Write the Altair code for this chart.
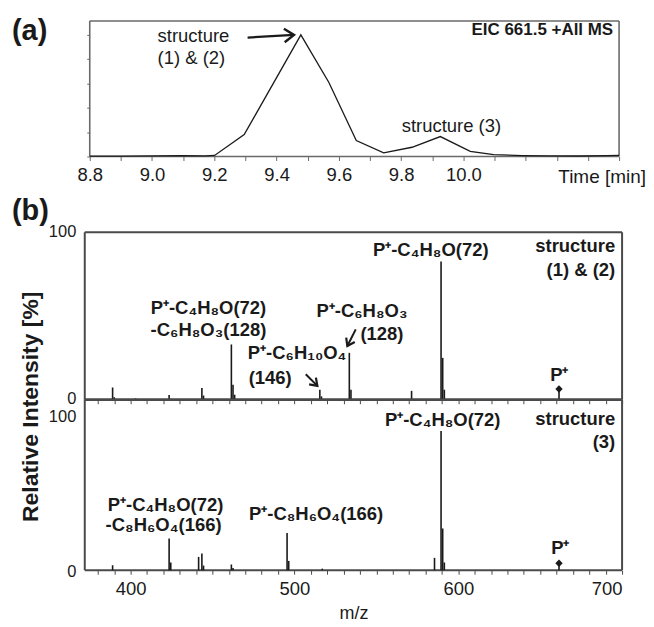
import json
import altair as alt
import pandas as pd

# ---------------- data ----------------
# (a) extracted ion chromatogram
eic_time = [8.80, 8.90, 9.00, 9.10, 9.17, 9.201, 9.296, 9.478, 9.568, 9.656,
            9.744, 9.835, 9.926, 10.022, 10.097, 10.19, 10.28, 10.37, 10.46, 10.50]
eic_intensity = [0.3, 0.3, 0.5, 0.6, 0.5, 0.9, 18.0, 100.0, 60.9, 13.1,
                 3.0, 7.6, 16.4, 4.3, 1.6, 0.8, 0.5, 0.4, 0.7, 1.0]
eic_tick_values = [8.8, 8.9, 9.0, 9.1, 9.2, 9.3, 9.4, 9.5, 9.6, 9.7, 9.8, 9.9,
                   10.0, 10.1, 10.2, 10.3, 10.4, 10.5]
eic_tick_labels = ["8.8", "9.0", "9.2", "9.4", "9.6", "9.8", "10.0"]

# (b) MS/MS spectra
ms1_mz = [389.0, 390.0, 403.0, 423.5, 443.5, 444.5, 461.5, 462.5, 463.5,
          515.5, 516.5, 533.5, 534.5, 571.5, 589.5, 590.5, 591.5, 661.5]
ms1_int = [7.3, 1.5, 0.8, 2.8, 7.0, 2.5, 33.0, 9.0, 3.0,
           6.0, 2.0, 28.0, 6.0, 5.3, 82.5, 25.0, 6.0, 5.5]
ms2_mz = [389.0, 423.5, 424.5, 441.5, 443.5, 444.5, 461.5, 462.5, 495.5,
          496.5, 517.0, 585.5, 589.5, 590.5, 591.5, 661.5]
ms2_int = [3.2, 20.5, 5.0, 8.6, 10.8, 3.0, 3.7, 1.5, 24.0,
           6.0, 1.0, 8.0, 90.0, 27.0, 5.0, 3.0]
precursor_mz = [661.5]
ms1_precursor_int = [6.4]
ms2_precursor_int = [4.5]
mz_tick_values = [380, 390, 400, 410, 420, 430, 440, 450, 460, 470, 480, 490, 500,
                  510, 520, 530, 540, 550, 560, 570, 580, 590, 600, 610, 620, 630,
                  640, 650, 660, 670, 680, 690, 700]
mz_tick_labels = [400, 500, 600, 700]

# annotations (data coordinates)
a_text = ["structure", "(1) & (2)", "structure (3)"]
a_time = [9.018, 9.018, 9.802]
a_int = [99.2, 81.2, 25.4]

ms1_center_text = ["P⁺-C₄H₈O(72)", "P⁺-C₄H₈O(72)", "-C₆H₈O₃(128)", "P⁺-C₆H₁₀O₄",
                   "(146)", "P⁺-C₆H₈O₃", "(128)", "P⁺"]
ms1_center_mz = [583.2, 447.5, 447.5, 501.6, 485.2, 541.2, 553.4, 661.7]
ms1_center_int = [89.3, 54.8, 41.7, 28.0, 13.1, 53.0, 39.3, 14.9]
ms1_right_text = ["structure", "(1) & (2)"]
ms1_right_mz = [695.8, 695.8]
ms1_right_int = [91.7, 77.4]

ms2_center_text = ["P⁺-C₄H₈O(72)", "P⁺-C₄H₈O(72)", "-C₈H₆O₄(166)", "P⁺-C₈H₆O₄(166)", "P⁺"]
ms2_center_mz = [590.5, 421.3, 420.1, 513.2, 662.3]
ms2_center_int = [97.4, 41.9, 29.0, 36.1, 14.2]
ms2_right_text = ["structure", "(3)"]
ms2_right_mz = [695.8, 695.8]
ms2_right_int = [98.0, 83.2]

# arrows: start -> tip
a_arrow_start_t = [9.307]
a_arrow_start_v = [97.8]
a_arrow_tip_t = [9.456]
a_arrow_tip_v = [100.0]
a_arrow_angle = [356.7]
ms1_arrow_start_mz = [537.4, 506.9]
ms1_arrow_start_int = [42.0, 15.2]
ms1_arrow_tip_mz = [532.3, 514.0]
ms1_arrow_tip_int = [32.1, 8.3]
ms1_arrow_angle = [117.0, 44.8]

# ---------------- style ----------------
FONT = "Liberation Sans"
INK = "#1a1a1a"
FRAME_A = "#6a6a6a"
FRAME_B = "#4a4a4a"
TICK_FS = 18.5
YLAB_FS = 16.5
ANN_FS = 18.5
CHEVRON = "M-1,-0.7L0,0L-1,0.7"

A_W, A_H = 536, 136
B_W, B1_H, B2_H = 539, 244, 171
A_TOP = 111.5
B2_TOP = 110.3

# ---------------- panel (a) ----------------
a_label_expr = ("indexof(" + json.dumps(eic_tick_labels) +
                ", format(datum.value, '.1f')) >= 0 ? format(datum.value, '.1f') : ''")
xa = alt.X("t:Q", scale=alt.Scale(domain=[8.784, 10.5], nice=False, zero=False),
           axis=alt.Axis(values=eic_tick_values, labelExpr=a_label_expr, tickSize=4,
                         domain=False, grid=False, title=None, labelPadding=5,
                         labelOverlap=False, labelFontSize=TICK_FS, tickColor=FRAME_A))
ya = alt.Y("v:Q", scale=alt.Scale(domain=[0, A_TOP], nice=False, zero=False),
           axis=alt.Axis(values=[0, 20, 40, 60, 80, 100], labels=False, tickSize=3,
                         domain=False, grid=False, title=None, offset=-5, tickColor=FRAME_A))

eic_df = pd.DataFrame({"t": eic_time, "v": eic_intensity})
frame_a = pd.DataFrame({"t": [8.8, 10.5, 8.8, 8.8], "t2": [8.8, 10.5, 10.5, 10.5],
                        "v": [0, 0, A_TOP, 0], "v2": [A_TOP, A_TOP, A_TOP, 0]})

a_frame = alt.Chart(frame_a).mark_rule(color=FRAME_A, strokeWidth=1.6).encode(
    x=xa, x2=alt.X2("t2"), y=ya, y2=alt.Y2("v2"))
a_line = alt.Chart(eic_df).mark_line(color=INK, strokeWidth=1.3).encode(x=xa, y=ya)
a_ann = alt.Chart(pd.DataFrame({"t": a_time, "v": a_int, "label": a_text})).mark_text(
    font=FONT, fontSize=18.5, align="left", baseline="middle", color=INK).encode(
    x=xa, y=ya, text="label:N")
a_eic = alt.Chart(pd.DataFrame({"t": [10.481], "v": [104.1], "label": ["EIC 661.5 +All MS"]})).mark_text(
    font=FONT, fontSize=17, fontWeight="bold", align="right", baseline="middle", color=INK).encode(
    x=xa, y=ya, text="label:N")
a_arrow_line = alt.Chart(pd.DataFrame({"t": a_arrow_start_t, "v": a_arrow_start_v,
                                       "t2": a_arrow_tip_t, "v2": a_arrow_tip_v})).mark_rule(
    color=INK, strokeWidth=2.2).encode(x=xa, x2=alt.X2("t2"), y=ya, y2=alt.Y2("v2"))
a_arrow_head = alt.Chart(pd.DataFrame({"t": a_arrow_tip_t, "v": a_arrow_tip_v,
                                       "ang": a_arrow_angle})).mark_point(
    shape=CHEVRON, size=380, filled=False, color=INK, strokeWidth=2.4, opacity=1).encode(
    x=xa, y=ya, angle=alt.Angle("ang:Q", scale=None))
a_panel_label = alt.Chart(pd.DataFrame({"label": ["(a)"]})).mark_text(
    font=FONT, fontSize=29, fontWeight="bold", align="left", baseline="middle", color=INK).encode(
    x=alt.value(-73), y=alt.value(10), text="label:N")
a_time_title = alt.Chart(pd.DataFrame({"label": ["Time [min]"]})).mark_text(
    font=FONT, fontSize=19, align="center", baseline="middle", color=INK).encode(
    x=alt.value(519), y=alt.value(157), text="label:N")

panel_a = alt.layer(a_frame, a_line, a_ann, a_eic, a_arrow_line, a_arrow_head,
                    a_panel_label, a_time_title).properties(width=A_W, height=A_H)

# ---------------- panel (b) ----------------
mz_scale = alt.Scale(domain=[372, 700], nice=False, zero=False)
mz_label_expr = ("indexof(" + json.dumps(mz_tick_labels) + ", datum.value) >= 0 ? datum.label : ''")


def x_mz(with_labels):
    if with_labels:
        ax = alt.Axis(values=mz_tick_values, labelExpr=mz_label_expr, tickSize=4, domain=False,
                      grid=False, title="m/z", titleFontSize=18, titleFontWeight="normal",
                      titlePadding=7, labelPadding=5, labelOverlap=False,
                      labelFontSize=TICK_FS, tickColor=FRAME_B)
    else:
        ax = alt.Axis(values=mz_tick_values, labels=False, tickSize=4, domain=False,
                      grid=False, title=None, tickColor=FRAME_B)
    return alt.X("mz:Q", scale=mz_scale, axis=ax)


y1 = alt.Y("inten:Q", scale=alt.Scale(domain=[0, 100], range=[B1_H, B1_H - 168], nice=False, zero=False),
           axis=alt.Axis(values=[0, 100], ticks=False, domain=False, grid=False, title=None,
                         labelPadding=9, labelFontSize=YLAB_FS, labelOffset=-1))
y2 = alt.Y("inten:Q", scale=alt.Scale(domain=[0, B2_TOP], nice=False, zero=False),
           axis=alt.Axis(values=[0, 100], ticks=False, domain=False, grid=False, title=None,
                         labelPadding=9, labelFontSize=YLAB_FS, labelOffset=1))


def spectrum(mz, inten, prec_int, y_enc, top, center, right, with_labels, sep_top):
    xe = x_mz(with_labels)
    frame = pd.DataFrame({"mz": [372, 700, 372, 372], "mz2": [372, 700, 700, 700],
                          "inten": [0, 0, top, 0], "inten2": [top, top, top, 0],
                          "w": [2.0, 2.0, 2.6 if sep_top else 2.0, 2.0 if sep_top else 2.6]})
    fr = alt.Chart(frame).mark_rule(color=FRAME_B).encode(
        x=xe, x2=alt.X2("mz2"), y=y_enc, y2=alt.Y2("inten2"),
        strokeWidth=alt.StrokeWidth("w:Q", scale=None))
    peaks = alt.Chart(pd.DataFrame({"mz": mz, "inten": inten, "base": [0] * len(mz)})).mark_rule(
        color=INK, strokeWidth=1.6).encode(x=xe, y=y_enc, y2=alt.Y2("base"))
    prec = alt.Chart(pd.DataFrame({"mz": precursor_mz, "inten": prec_int})).mark_point(
        shape="diamond", size=55, filled=True, color=INK, opacity=1).encode(x=xe, y=y_enc)
    ctext = alt.Chart(pd.DataFrame({"mz": center[1], "inten": center[2], "label": center[0]})).mark_text(
        font=FONT, fontSize=ANN_FS, fontWeight="bold", align="center", baseline="middle",
        color=INK).encode(x=xe, y=y_enc, text="label:N")
    rtext = alt.Chart(pd.DataFrame({"mz": right[1], "inten": right[2], "label": right[0]})).mark_text(
        font=FONT, fontSize=ANN_FS, fontWeight="bold", align="right", baseline="middle",
        color=INK).encode(x=xe, y=y_enc, text="label:N")
    return [fr, peaks, prec, ctext, rtext], xe


b1_layers, xe1 = spectrum(ms1_mz, ms1_int, ms1_precursor_int, y1, 100,
                          (ms1_center_text, ms1_center_mz, ms1_center_int),
                          (ms1_right_text, ms1_right_mz, ms1_right_int), False, False)
b1_arrow_line = alt.Chart(pd.DataFrame({"mz": ms1_arrow_start_mz, "inten": ms1_arrow_start_int,
                                        "mz2": ms1_arrow_tip_mz, "inten2": ms1_arrow_tip_int})).mark_rule(
    color=INK, strokeWidth=2.0).encode(x=xe1, x2=alt.X2("mz2"), y=y1, y2=alt.Y2("inten2"))
b1_arrow_head = alt.Chart(pd.DataFrame({"mz": ms1_arrow_tip_mz, "inten": ms1_arrow_tip_int,
                                        "ang": ms1_arrow_angle})).mark_point(
    shape=CHEVRON, size=190, filled=False, color=INK, strokeWidth=2.2, opacity=1).encode(
    x=xe1, y=y1, angle=alt.Angle("ang:Q", scale=None))
b_panel_label = alt.Chart(pd.DataFrame({"label": ["(b)"]})).mark_text(
    font=FONT, fontSize=29, fontWeight="bold", align="left", baseline="middle", color=INK).encode(
    x=alt.value(-73), y=alt.value(55), text="label:N")
y_title = alt.Chart(pd.DataFrame({"label": ["Relative Intensity [%]"]})).mark_text(
    font=FONT, fontSize=23, fontWeight="bold", align="center", baseline="middle", angle=270,
    color=INK).encode(x=alt.value(-54), y=alt.value(251), text="label:N")

panel_b1 = alt.layer(*b1_layers, b1_arrow_line, b1_arrow_head, b_panel_label, y_title).properties(
    width=B_W, height=B1_H)

b2_layers, xe2 = spectrum(ms2_mz, ms2_int, ms2_precursor_int, y2, B2_TOP,
                          (ms2_center_text, ms2_center_mz, ms2_center_int),
                          (ms2_right_text, ms2_right_mz, ms2_right_int), True, True)
panel_b2 = alt.layer(*b2_layers).properties(width=B_W, height=B2_H)

chart = alt.vconcat(panel_a, panel_b1, panel_b2, spacing=0, bounds="flush").properties(
    padding={"left": 4, "top": 8, "right": 0, "bottom": 0}
).configure_view(stroke=None).configure_axis(
    labelFont=FONT, labelColor=INK, titleFont=FONT, titleColor=INK
)

chart.save("out.html", embed_options={"renderer": "svg", "actions": False})
